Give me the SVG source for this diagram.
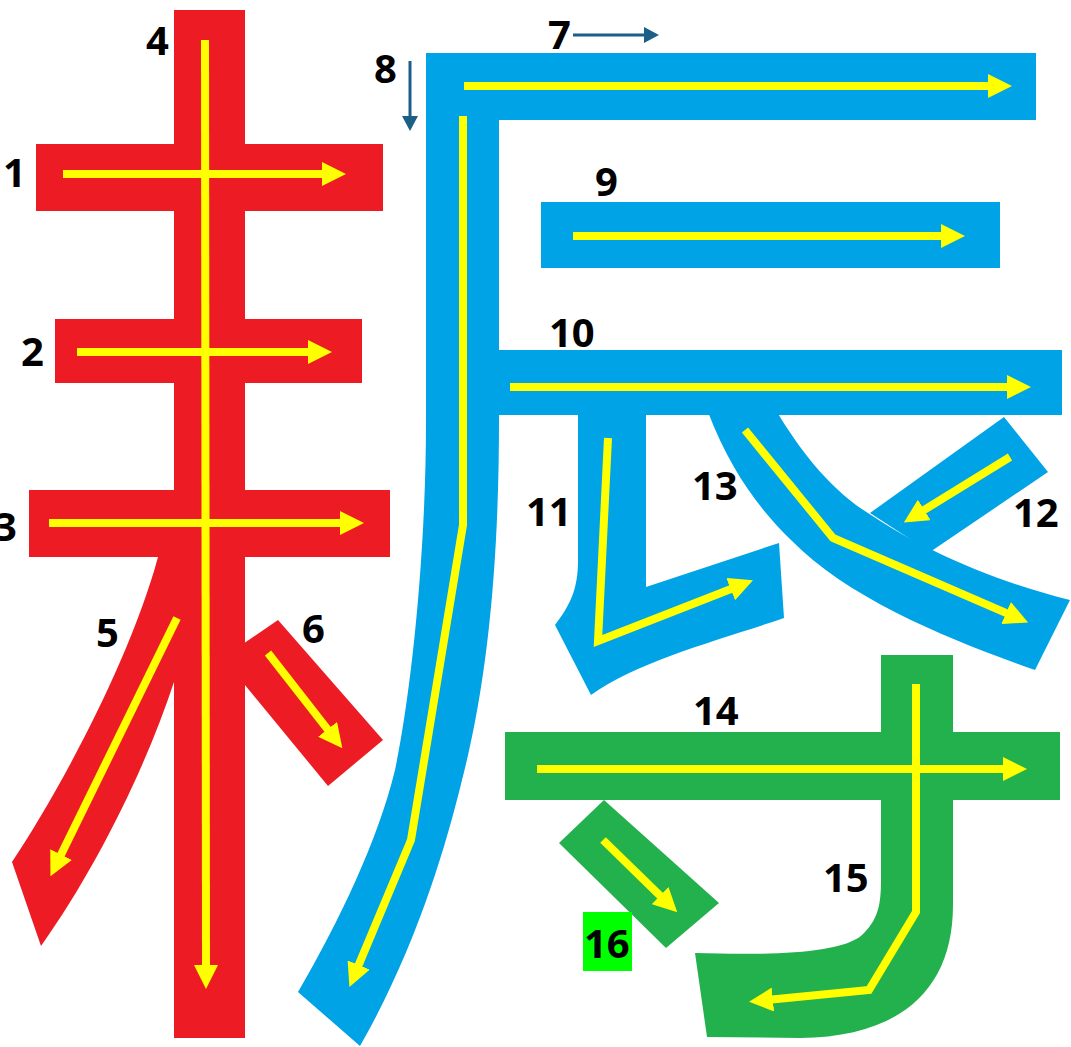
<svg xmlns="http://www.w3.org/2000/svg" width="1071" height="1047" viewBox="0 0 1071 1047">
<defs>
<style>
.r{fill:#ED1C24}
.b{fill:#00A3E6}
.g{fill:#22B14C}
.y{fill:none;stroke:#FFFF00;stroke-width:8;marker-end:url(#ya)}
.n{fill:none;stroke:#1C5F86;stroke-width:3;marker-end:url(#na)}
.t{font-family:"Open Sans","Liberation Sans",sans-serif;font-weight:700;font-size:40px;fill:#000}
</style>
<marker id="ya" viewBox="0 0 24 24" markerWidth="24" markerHeight="24" refX="1" refY="12" orient="auto" markerUnits="userSpaceOnUse"><path d="M0,0 L24,12 L0,24 Z" fill="#FFFF00"/></marker>
<marker id="na" viewBox="0 0 15 16" markerWidth="15" markerHeight="16" refX="1" refY="8" orient="auto" markerUnits="userSpaceOnUse"><path d="M0,0 L15,8 L0,16 Z" fill="#1C5F86"/></marker>
</defs>
<rect width="1071" height="1047" fill="#fff"/>
<g id="s1"><rect class="r" x="36" y="144" width="347" height="67"/></g>
<g id="s2"><rect class="r" x="55" y="319" width="307" height="64"/></g>
<g id="s3"><rect class="r" x="29" y="490" width="361" height="67"/></g>
<g id="s4"><rect class="r" x="174" y="10" width="71" height="1028"/></g>
<g id="s5"><path class="r" d="M158,557 L210,557 L174,682 C145,770 95,870 41,946 L12,862 C60,790 130,660 158,557 Z"/></g>
<g id="s6"><path class="r" d="M240,646 L278,620 L383,740 L328,786 L240,679 Z"/></g>
<g id="s7"><rect class="b" x="426" y="53" width="610" height="67"/></g>
<g id="s8"><path class="b" d="M426,53 L499,53 L499,420 C499,560 488,680 462,780 C445,850 415,950 360,1046 L298,992 C340,920 378,840 395,770 C410,700 426,560 426,420 Z"/></g>
<g id="s9"><rect class="b" x="541" y="202" width="459" height="66"/></g>
<g id="s10"><rect class="b" x="495" y="350" width="567" height="65"/></g>
<g id="s11"><path class="b" d="M578,412 L646,412 L646,587 L779,543 L784,618 C720,640 640,660 591,695 L555,625 C570,605 578,590 578,560 Z"/></g>
<g id="s13"><path class="b" d="M708,412 L777,412 C800,450 830,490 871,515 C920,548 990,580 1070,600 L1035,670 C950,640 850,600 791,540 C760,510 730,470 708,412 Z"/></g>
<g id="s12"><path class="b" d="M1004,417 L1048,472 L930,552 L870,513 Z"/></g>
<g id="s14"><rect class="g" x="505" y="732" width="555" height="68"/></g>
<g id="s15"><path class="g" d="M881,655 L953,655 L953,905 C953,990 900,1037 800,1038 L707,1037 L695,953 C760,955 840,955 862,935 C878,920 881,905 881,880 Z"/></g>
<g id="s16"><path class="g" d="M604,800 L719,903 L666,948 L559,843 Z"/></g>
<g id="connectors">
<path class="y" d="M63,174 H323"/>
<path class="y" d="M77,352 H309"/>
<path class="y" d="M49,523 H341"/>
<path class="y" d="M205,40 L206,966"/>
<path class="y" d="M177,618 L60.6,855.5"/>
<path class="y" d="M268,653 L328.2,730.1"/>
<path class="y" d="M464,86 H989"/>
<path class="y" d="M463,116 L463,525 L411,840 L358.3,965.9"/>
<path class="y" d="M573,236 H942"/>
<path class="y" d="M510,387 H1008"/>
<path class="y" d="M608,438 L598,641 L731.6,588.7"/>
<path class="y" d="M1010,457 L923.4,510.4"/>
<path class="y" d="M745,430 L833,538 L1007,613.4"/>
<path class="y" d="M537,769 H1004"/>
<path class="y" d="M916,684 L916,912 L869,990 L771.9,999.6"/>
<path class="y" d="M603,840 L660.8,896.3"/>
<path class="n" d="M573,35 H645"/>
<path class="n" d="M410,61 V117"/>
</g>
<g id="labels">
<rect x="583" y="912" width="49" height="59" fill="#00FF00"/>
<text class="t" x="146" y="55">4</text>
<text class="t" x="3" y="187">1</text>
<text class="t" x="21" y="366">2</text>
<text class="t" x="-6" y="541">3</text>
<text class="t" x="96" y="647">5</text>
<text class="t" x="302" y="643">6</text>
<text class="t" x="548" y="49">7</text>
<text class="t" x="374" y="83">8</text>
<text class="t" x="595" y="196">9</text>
<text class="t" x="549" y="347">10</text>
<text class="t" x="526" y="526">11</text>
<text class="t" x="692" y="500">13</text>
<text class="t" x="1013" y="527">12</text>
<text class="t" x="693" y="725">14</text>
<text class="t" x="823" y="892">15</text>
<text class="t" x="584" y="958">16</text>
</g>
</svg>
